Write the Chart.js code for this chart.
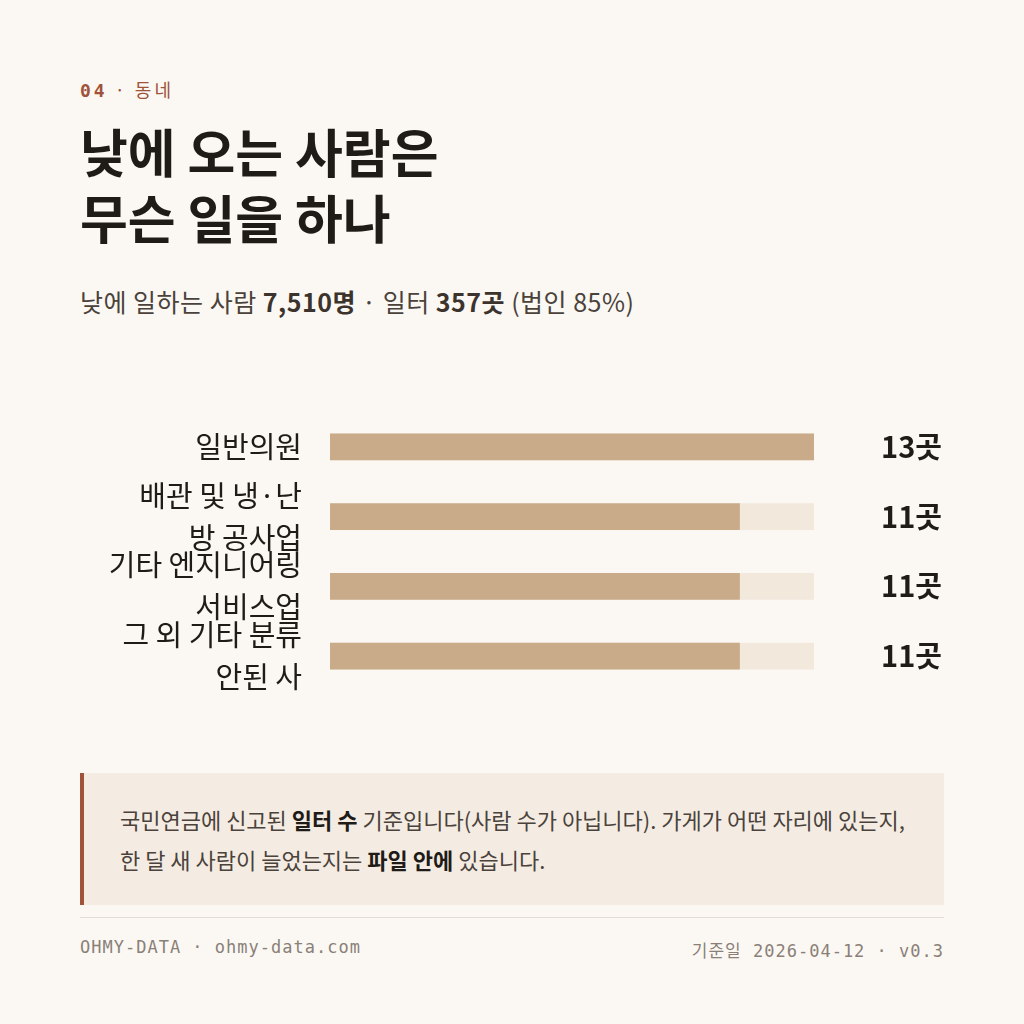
<!DOCTYPE html>
<html><head><meta charset="utf-8">
<script src="https://cdn.jsdelivr.net/npm/chart.js@4"></script>
<style>
body{margin:0;width:1024px;height:1024px;background:#fbf8f3;font-family:"Noto Sans CJK KR","Noto Sans",sans-serif;color:#1f1b17;position:relative;overflow:hidden}
.kicker{position:absolute;left:80px;top:76px;font-size:18px;color:#a0533a;letter-spacing:3px}
.kicker b{font-family:"DejaVu Sans Mono",monospace;font-weight:bold}
h1{position:absolute;left:80px;top:118px;margin:0;font-size:52px;line-height:66px;font-weight:bold;letter-spacing:0px}
.sub{position:absolute;left:80px;top:283px;font-size:25px;color:#4a423b;letter-spacing:0.5px}
.sub b{color:#3b332c}
#c{position:absolute;left:80px;top:350px}
.note{position:absolute;left:80px;top:773px;width:864px;height:132px;background:#f4ece2;border-left:4px solid #a0533a;box-sizing:border-box;padding:26px 36px;font-size:22px;line-height:40px;color:#4a423b}
.note b{color:#1f1b17}
.rule{position:absolute;left:80px;top:917px;width:864px;border-top:1px solid #e4ddd3}
.foot{position:absolute;top:937px;font-family:"DejaVu Sans Mono",monospace;font-size:17px;color:#8a8078;letter-spacing:1px}
</style></head><body>
<div class="kicker"><b>04</b> · 동네</div>
<h1>낮에 오는 사람은<br>무슨 일을 하나</h1>
<div class="sub">낮에 일하는 사람 <b>7,510명</b> · 일터 <b>357곳</b> (법인 85%)</div>
<canvas id="c" width="870" height="382"></canvas>
<div class="note">국민연금에 신고된 <b>일터 수</b> 기준입니다(사람 수가 아닙니다). 가게가 어떤 자리에 있는지, 한 달 새 사람이 늘었는지는 <b>파일 안에</b> 있습니다.</div>
<div class="rule"></div>
<div class="foot" style="left:80px">OHMY-DATA · ohmy-data.com</div>
<div class="foot" style="right:80px"><span style="font-family:'Noto Sans CJK KR'">기준일</span> 2026-04-12 · v0.3</div>
<script>
const categories=[["일반의원"],["배관 및 냉·난","방 공사업"],["기타 엔지니어링","서비스업"],["그 외 기타 분류","안된 사"]];
const values=[13,11,11,11];
const unit="곳";
const maxV=13;
const labelPlugin={id:'vl',afterDatasetsDraw(ch){const ctx=ch.ctx;const m=ch.getDatasetMeta(1);ctx.save();ctx.font='bold 29px "Noto Sans CJK KR"';ctx.fillStyle='#1f1b17';ctx.textAlign='right';ctx.textBaseline='middle';m.data.forEach((b,i)=>ctx.fillText(values[i]+unit,862,b.y));ctx.restore();}};
new Chart(document.getElementById('c'),{type:'bar',
data:{labels:categories,datasets:[
{data:values.map(()=>maxV),backgroundColor:'#f2e8dc',grouped:false,order:2,barThickness:26},
{data:values,backgroundColor:'#c9ab8a',grouped:false,order:1,barThickness:26}]},
options:{indexAxis:'y',responsive:false,animation:false,devicePixelRatio:1,
layout:{padding:{right:136,top:0,bottom:0}},
plugins:{legend:{display:false},tooltip:{enabled:false}},
scales:{x:{min:0,max:maxV,display:false},
y:{grid:{display:false},border:{display:false},afterFit(s){s.width=250;},
ticks:{color:'#1f1b17',font:{size:29,family:'"Noto Sans CJK KR"',lineHeight:1.45},padding:20}}}},
plugins:[labelPlugin]});
</script>
</body></html>
